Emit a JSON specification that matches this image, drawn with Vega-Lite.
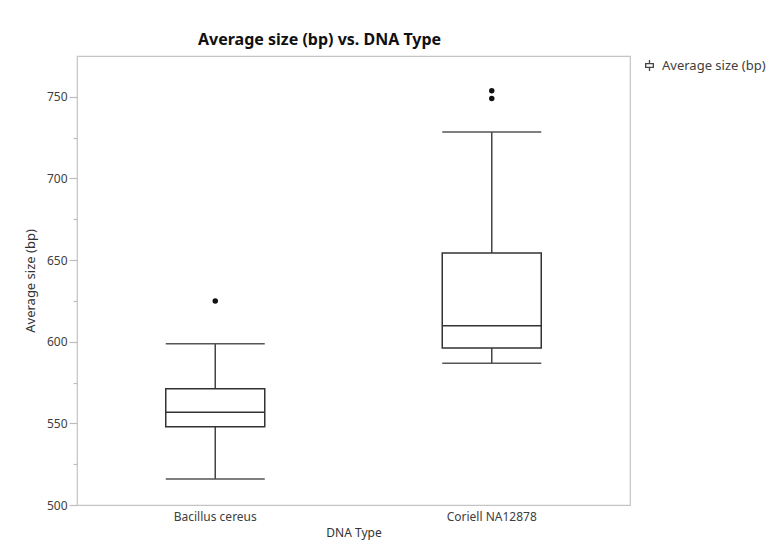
{
  "$schema": "https://vega.github.io/schema/vega-lite/v6.json",
  "autosize": {"type": "none"},
  "width": 553,
  "height": 449,
  "padding": {"left": 77, "top": 56, "right": 144, "bottom": 54},
  "background": "white",
  "title": {
    "text": "Average size (bp) vs. DNA Type",
    "anchor": "start",
    "frame": "group",
    "dx": 121,
    "offset": 8,
    "font": "Noto Sans",
    "fontSize": 16,
    "fontWeight": "bold",
    "color": "#111111"
  },
  "datasets": {
    "stats": [
      {"type": "Bacillus cereus", "lower": 515.9, "q1": 547.9, "median": 556.8, "q3": 571.2, "upper": 598.8, "series": "Average size (bp)"},
      {"type": "Coriell NA12878", "lower": 586.8, "q1": 596.1, "median": 609.8, "q3": 654.3, "upper": 728.4, "series": "Average size (bp)"}
    ],
    "outliers": [
      {"type": "Bacillus cereus", "value": 624.9},
      {"type": "Coriell NA12878", "value": 753.7},
      {"type": "Coriell NA12878", "value": 749.0}
    ]
  },
  "encoding": {
    "x": {
      "field": "type",
      "type": "nominal",
      "scale": {"type": "band", "paddingInner": 0, "paddingOuter": 0},
      "sort": null,
      "axis": {
        "title": "DNA Type",
        "labelAngle": 0,
        "ticks": false,
        "domain": false,
        "labelPadding": 6,
        "titlePadding": 5
      }
    }
  },
  "layer": [
    {
      "data": {"name": "stats"},
      "mark": {"type": "rule", "strokeWidth": 1.5},
      "encoding": {
        "y": {
          "field": "lower",
          "type": "quantitative",
          "scale": {"domain": [500, 775], "nice": false, "zero": false},
          "axis": {
            "title": "Average size (bp)",
            "titleFontSize": 13,
            "values": [500, 525, 550, 575, 600, 625, 650, 675, 700, 725, 750],
            "labelExpr": "datum.value % 50 === 0 ? datum.label : ''",
            "tickSize": {"condition": {"test": "datum.value % 50 !== 0", "value": 4}, "value": 8},
            "grid": false,
            "domain": false,
            "labelPadding": 2,
            "titlePadding": 9
          }
        },
        "y2": {"field": "q1"},
        "color": {
          "field": "series",
          "type": "nominal",
          "scale": {"range": ["#444444"]},
          "legend": {
            "title": null,
            "orient": "none",
            "legendX": 566,
            "legendY": 3,
            "symbolType": "M-0.7,-0.35H0.7V0.35H-0.7Z M0,-1V-0.35 M0,0.35V1",
            "symbolSize": 120,
            "symbolStrokeWidth": 1.3,
            "symbolFillColor": "white",
            "symbolStrokeColor": "#333333",
            "labelFontSize": 13,
            "labelColor": "#404040",
            "labelFont": "Noto Sans",
            "labelOffset": 6
          }
        }
      }
    },
    {
      "data": {"name": "stats"},
      "mark": {"type": "rule", "strokeWidth": 1.5, "color": "#444444"},
      "encoding": {
        "y": {"field": "q3", "type": "quantitative"},
        "y2": {"field": "upper"}
      }
    },
    {
      "data": {"name": "stats"},
      "mark": {"type": "bar", "size": 99, "fill": "white", "stroke": "#333333", "strokeWidth": 1.5},
      "encoding": {
        "y": {"field": "q1", "type": "quantitative"},
        "y2": {"field": "q3"}
      }
    },
    {
      "data": {"name": "stats"},
      "mark": {"type": "tick", "size": 99, "thickness": 1.5, "color": "#333333", "opacity": 1},
      "encoding": {
        "y": {"field": "median", "type": "quantitative"}
      }
    },
    {
      "data": {"name": "stats"},
      "mark": {"type": "tick", "size": 99, "thickness": 1.5, "color": "#555555", "opacity": 1},
      "encoding": {
        "y": {"field": "lower", "type": "quantitative"}
      }
    },
    {
      "data": {"name": "stats"},
      "mark": {"type": "tick", "size": 99, "thickness": 1.5, "color": "#555555", "opacity": 1},
      "encoding": {
        "y": {"field": "upper", "type": "quantitative"}
      }
    },
    {
      "data": {"name": "outliers"},
      "mark": {"type": "point", "filled": true, "size": 30, "color": "#111111", "opacity": 1},
      "encoding": {
        "y": {"field": "value", "type": "quantitative"}
      }
    }
  ],
  "config": {
    "font": "Noto Sans",
    "view": {"stroke": "#c4c4c4", "strokeWidth": 1.2},
    "axis": {
      "labelFont": "Noto Sans",
      "labelFontSize": 12,
      "labelColor": "#404040",
      "titleFont": "Noto Sans",
      "titleFontSize": 12,
      "titleFontWeight": "normal",
      "titleColor": "#333333",
      "tickColor": "#bdbdbd",
      "tickWidth": 1.2
    }
  }
}
